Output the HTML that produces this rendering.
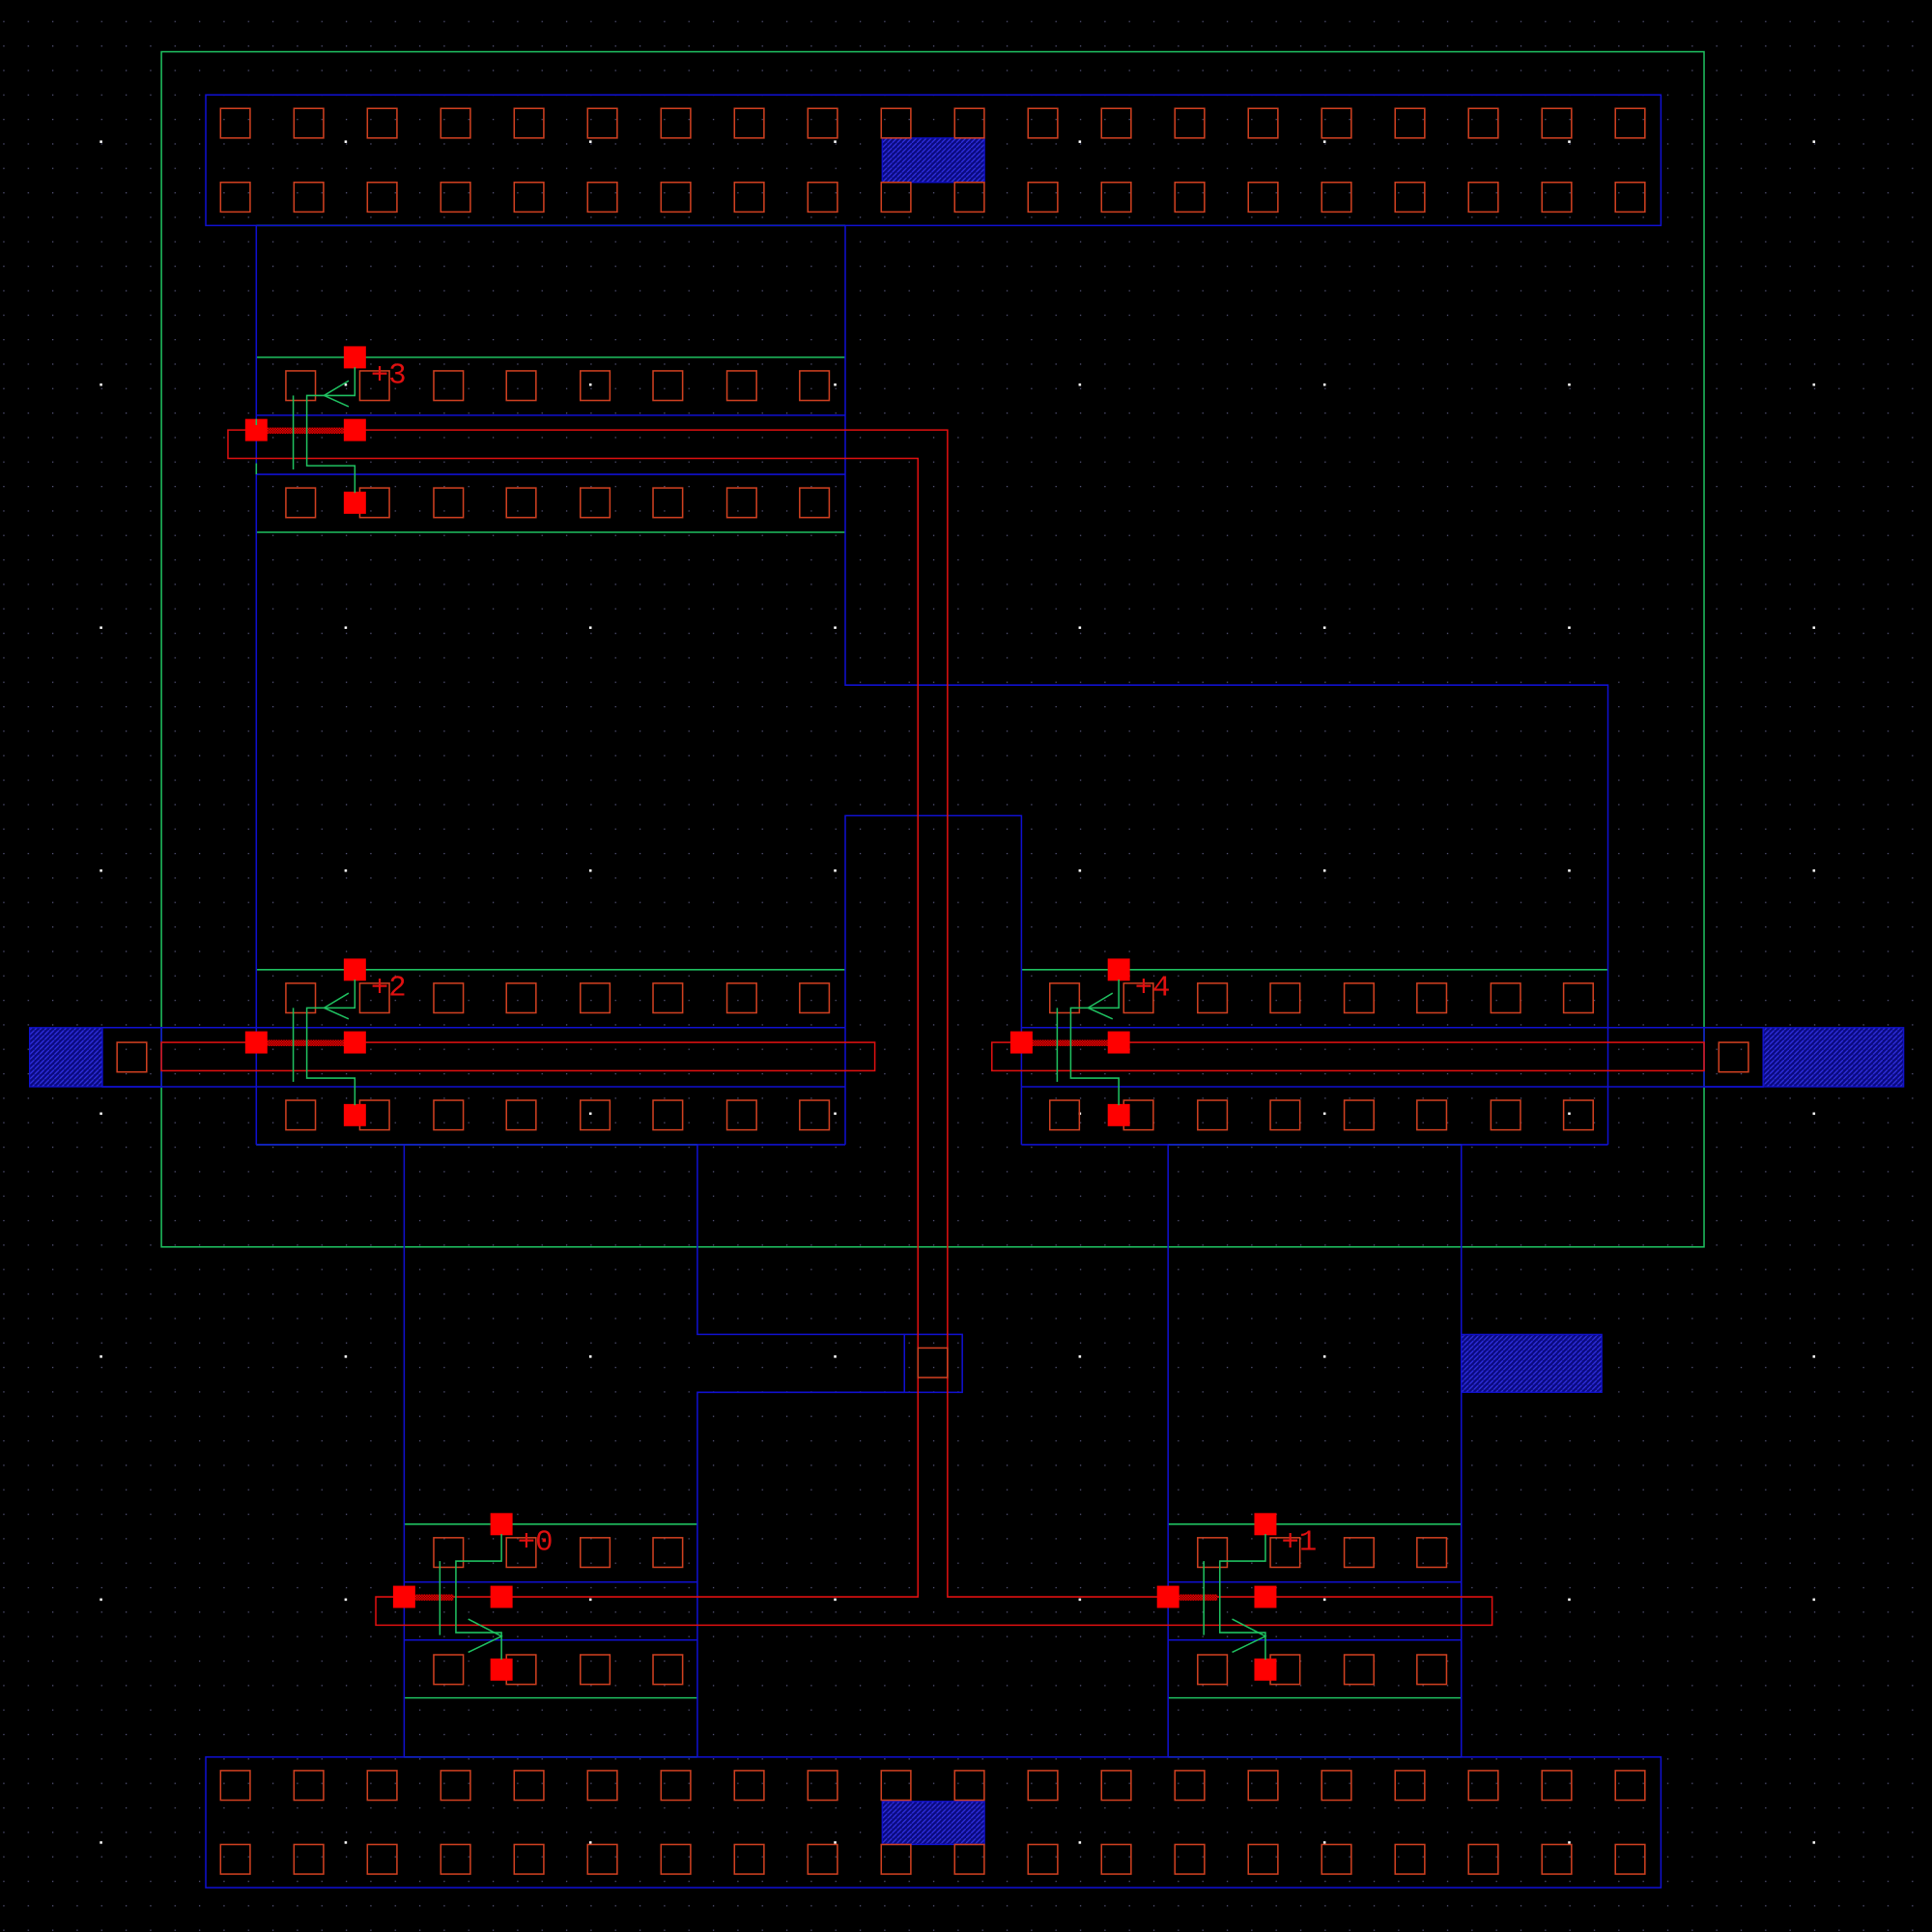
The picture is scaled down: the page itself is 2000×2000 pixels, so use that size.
<!DOCTYPE html>
<html><head><meta charset="utf-8">
<style>html,body{margin:0;padding:0;background:#000;}svg{display:block}</style>
</head><body>
<svg id="s" xmlns="http://www.w3.org/2000/svg" width="2000" height="2000" viewBox="0 0 1568 1568">
<defs>
<pattern id="dots" x="2.6" y="17" width="19.86" height="19.86" patternUnits="userSpaceOnUse">
<rect x="0" y="0" width="1" height="1" fill="#55557a"/>
</pattern>
<pattern id="hatch" width="4" height="4" patternUnits="userSpaceOnUse">
<rect width="4" height="4" fill="#0a0a80"/>
<path d="M0,4 L4,0" stroke="#3030e0" stroke-width="1"/>
</pattern>
<pattern id="chk" width="2" height="2" patternUnits="userSpaceOnUse">
<rect width="2" height="2" fill="#600"/><rect width="1" height="1" fill="#f00"/><rect x="1" y="1" width="1" height="1" fill="#f00"/>
</pattern>
</defs>
<rect width="1568" height="1568" fill="#000"/>
<rect width="1568" height="1568" fill="url(#dots)"/>
<g id="big" fill="#fff"></g>
<g fill="none" stroke-width="1.2">
<rect x="131" y="42" width="1252" height="970" stroke="#1fc060"/>
<g stroke="#1fc060">
<line x1="208" y1="183" x2="686" y2="183"/>
<line x1="208" y1="290" x2="686" y2="290"/>
<line x1="208" y1="432" x2="686" y2="432"/>
<line x1="208" y1="787" x2="686" y2="787"/>
<line x1="829" y1="787" x2="1305" y2="787"/>
<line x1="208" y1="929" x2="566" y2="929"/>
<line x1="948" y1="929" x2="1186" y2="929"/>
<line x1="328" y1="1237" x2="566" y2="1237"/>
<line x1="328" y1="1378" x2="566" y2="1378"/>
<line x1="948" y1="1237" x2="1186" y2="1237"/>
<line x1="948" y1="1378" x2="1186" y2="1378"/>
<line x1="328" y1="1426" x2="566" y2="1426"/>
<line x1="948" y1="1426" x2="1186" y2="1426"/>
</g>
<g stroke="#1010d0">
<rect x="167" y="77" width="1181" height="106"/>
<rect x="167" y="1426" width="1181" height="106"/>
<line x1="208" y1="183" x2="208" y2="929"/>
<polyline points="686,183 686,556 1305,556 1305,929"/>
<line x1="208" y1="337" x2="686" y2="337"/>
<line x1="208" y1="385" x2="686" y2="385"/>
<polyline points="686,834 686,662 829,662 829,929"/>
<line x1="686" y1="834" x2="686" y2="929"/>
<line x1="83" y1="834" x2="686" y2="834"/>
<line x1="83" y1="882" x2="686" y2="882"/>
<line x1="208" y1="929" x2="686" y2="929"/>
<line x1="829" y1="834" x2="1431" y2="834"/>
<line x1="829" y1="882" x2="1431" y2="882"/>
<line x1="829" y1="929" x2="1305" y2="929"/>
<rect x="83" y="834" width="48" height="48"/>
<rect x="1383" y="834" width="48" height="48"/>
<line x1="328" y1="929" x2="328" y2="1426"/>
<polyline points="566,929 566,1083 734,1083"/>
<polyline points="734,1130 566,1130 566,1426"/>
<rect x="734" y="1083" width="47" height="47"/>
<line x1="948" y1="929" x2="948" y2="1426"/>
<line x1="1186" y1="929" x2="1186" y2="1426"/>
<line x1="328" y1="1284" x2="566" y2="1284"/>
<line x1="328" y1="1331" x2="566" y2="1331"/>
<line x1="948" y1="1284" x2="1186" y2="1284"/>
<line x1="948" y1="1331" x2="1186" y2="1331"/>
</g>
</g>
<rect x="716" y="112" width="83" height="36" fill="url(#hatch)" stroke="#1010d0"/>
<rect x="716" y="1462" width="83" height="35" fill="url(#hatch)" stroke="#1010d0"/>
<rect x="24" y="834" width="59" height="48" fill="url(#hatch)" stroke="#1010d0"/>
<rect x="1431" y="834" width="114" height="48" fill="url(#hatch)" stroke="#1010d0"/>
<rect x="1186" y="1083" width="114" height="47" fill="url(#hatch)" stroke="#1010d0"/>
<g fill="none" stroke="#e01010" stroke-width="1.2">
<polygon points="185,349 769,349 769,1296 1211,1296 1211,1319 305,1319 305,1296 745,1296 745,372 185,372"/>
<rect x="131" y="846" width="579" height="23"/>
<rect x="805" y="846" width="578" height="23"/>
</g>
<g id="cont" fill="none" stroke="#d04020" stroke-width="1.2"></g>
<rect x="214" y="347" width="68" height="5" fill="url(#chk)"/>
<rect x="214" y="844" width="68" height="5" fill="url(#chk)"/>
<rect x="834" y="844" width="68" height="5" fill="url(#chk)"/>
<rect x="334" y="1294" width="34" height="5" fill="url(#chk)"/>
<rect x="954" y="1294" width="34" height="5" fill="url(#chk)"/>
<g id="marks" fill="#ff0000"></g>
<g fill="none" stroke="#1fc060" stroke-width="1.2">
<line x1="238" y1="321" x2="238" y2="381"/><polyline points="288,298 288,321 249,321 249,378 288,378 288,400"/><polyline points="283,309 263,321 283,330"/><line x1="208" y1="340" x2="208" y2="345"/><line x1="208" y1="376" x2="208" y2="385"/>
<line x1="238" y1="818" x2="238" y2="878"/><polyline points="288,795 288,818 249,818 249,875 288,875 288,897"/><polyline points="283,806 263,818 283,827"/>
<line x1="858" y1="818" x2="858" y2="878"/><polyline points="908,795 908,818 869,818 869,875 908,875 908,897"/><polyline points="903,806 883,818 903,827"/>
<line x1="357" y1="1267" x2="357" y2="1327"/><polyline points="407,1245 407,1267 370,1267 370,1325 407,1325 407,1347"/><polyline points="380,1314 407,1328 380,1341"/>
<line x1="977" y1="1267" x2="977" y2="1327"/><polyline points="1027,1245 1027,1267 990,1267 990,1325 1027,1325 1027,1347"/><polyline points="1000,1314 1027,1328 1000,1341"/>
</g>
<g fill="#e01010" font-family="Liberation Mono, monospace" font-size="24">
<text x="301" y="311">+3</text>
<text x="301" y="808">+2</text>
<text x="921" y="808">+4</text>
<text x="420" y="1258">+0</text>
<text x="1040" y="1258">+1</text>
</g>
<script>
var NS="http://www.w3.org/2000/svg";
function r(g,x,y,w,h){var e=document.createElementNS(NS,"rect");e.setAttribute("x",x);e.setAttribute("y",y);e.setAttribute("width",w);e.setAttribute("height",h);document.getElementById(g).appendChild(e);}
for(var i=0;i<20;i++){var cx=191+i*59.58;[100,160,1449,1509].forEach(function(cy){r("cont",cx-12,cy-12,24,24);});}
var xs=[244,304,364,423,483,542,602,661];
xs.forEach(function(x){[313,408,810,905].forEach(function(y){r("cont",x-12,y-12,24,24);});});
xs.forEach(function(x){[810,905].forEach(function(y){r("cont",x+620-12,y-12,24,24);});});
[364,423,483,542].forEach(function(x){[1260,1355].forEach(function(y){r("cont",x-12,y-12,24,24);r("cont",x+620-12,y-12,24,24);});});
r("cont",95,846,24,24);r("cont",1395,846,24,24);r("cont",745,1094,24,24);
var m=[[288,290],[208,349],[288,349],[288,408],[288,787],[208,846],[288,846],[288,905],[908,787],[829,846],[908,846],[908,905],[407,1237],[328,1296],[407,1296],[407,1355],[1027,1237],[948,1296],[1027,1296],[1027,1355]];
m.forEach(function(p){r("marks",p[0]-9,p[1]-9,18,18);});
for(var a=0;a<8;a++)for(var b=0;b<8;b++){r("big",82+a*198.6-1,115+b*197.2-1,2,2);}
</script>
</svg>
</body></html>
